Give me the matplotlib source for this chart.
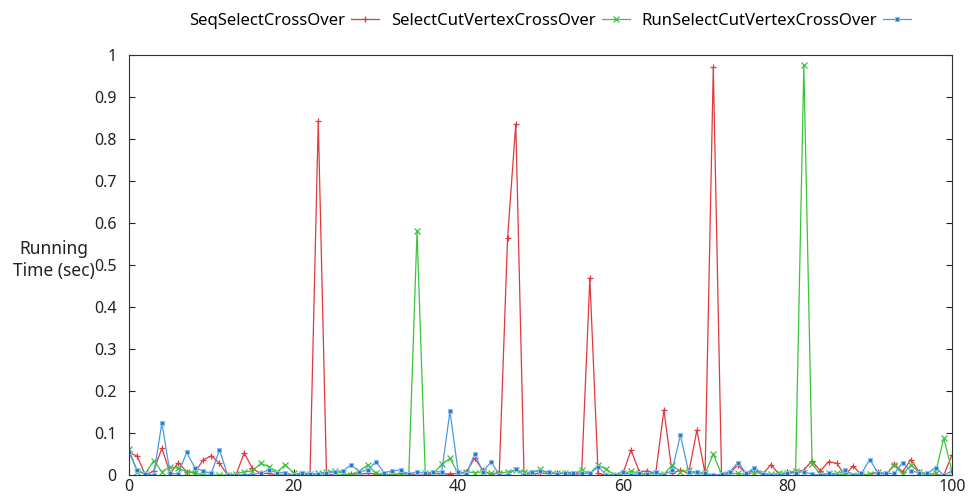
import matplotlib.pyplot as plt

plt.rcParams['font.family'] = ['Noto Sans', 'DejaVu Sans']

x = list(range(101))

# SeqSelectCrossOver
seq = [0.054, 0.045, 0.0, 0.01, 0.064, 0.004, 0.03, 0.008, 0.006, 0.036,
       0.046, 0.028, 0.0, 0.0, 0.053, 0.016, 0.004, 0.004, 0.001, 0.0,
       0.0, 0.002, 0.002, 0.843, 0.002, 0.0, 0.0, 0.003, 0.003, 0.004,
       0.003, 0.002, 0.0, 0.004, 0.003, 0.0, 0.0, 0.004, 0.003, 0.003,
       0.004, 0.008, 0.04, 0.012, 0.0, 0.008, 0.564, 0.836, 0.003, 0.003,
       0.004, 0.004, 0.004, 0.004, 0.002, 0.004, 0.469, 0.004, 0.0, 0.0,
       0.002, 0.06, 0.008, 0.01, 0.004, 0.155, 0.004, 0.012, 0.004, 0.107,
       0.004, 0.971, 0.0, 0.004, 0.025, 0.002, 0.013, 0.002, 0.025, 0.002,
       0.004, 0.008, 0.012, 0.034, 0.01, 0.032, 0.028, 0.0, 0.022, 0.0,
       0.0, 0.008, 0.0, 0.026, 0.008, 0.037, 0.008, 0.0, 0.0, 0.0,
       0.048]

# SelectCutVertexCrossOver
cut = [0.062, 0.008, 0.004, 0.034, 0.008, 0.02, 0.016, 0.008, 0.006, 0.0,
       0.0, 0.0, 0.001, 0.003, 0.008, 0.01, 0.028, 0.02, 0.008, 0.025,
       0.004, 0.002, 0.002, 0.004, 0.008, 0.01, 0.004, 0.0, 0.01, 0.024,
       0.004, 0.0, 0.0, 0.0, 0.0, 0.581, 0.004, 0.004, 0.026, 0.04,
       0.004, 0.008, 0.006, 0.008, 0.004, 0.004, 0.008, 0.012, 0.008, 0.006,
       0.014, 0.003, 0.006, 0.004, 0.002, 0.012, 0.004, 0.024, 0.014, 0.0,
       0.002, 0.01, 0.004, 0.002, 0.004, 0.002, 0.024, 0.008, 0.012, 0.002,
       0.004, 0.05, 0.002, 0.004, 0.004, 0.002, 0.006, 0.004, 0.002, 0.004,
       0.006, 0.01, 0.976, 0.027, 0.002, 0.004, 0.004, 0.0, 0.0, 0.002,
       0.002, 0.008, 0.002, 0.024, 0.002, 0.024, 0.008, 0.0, 0.006, 0.088,
       0.01]

# RunSelectCutVertexCrossOver
run = [0.054, 0.012, 0.002, 0.0, 0.124, 0.004, 0.003, 0.054, 0.018, 0.01,
       0.004, 0.06, 0.0, 0.0, 0.001, 0.001, 0.006, 0.012, 0.006, 0.006,
       0.0, 0.006, 0.003, 0.002, 0.004, 0.008, 0.01, 0.025, 0.008, 0.012,
       0.032, 0.006, 0.01, 0.012, 0.002, 0.008, 0.004, 0.008, 0.008, 0.152,
       0.008, 0.003, 0.05, 0.008, 0.032, 0.0, 0.0, 0.015, 0.0, 0.008,
       0.01, 0.008, 0.002, 0.006, 0.006, 0.004, 0.004, 0.02, 0.0, 0.0,
       0.008, 0.0, 0.004, 0.003, 0.008, 0.0, 0.012, 0.095, 0.008, 0.008,
       0.004, 0.0, 0.002, 0.008, 0.03, 0.004, 0.018, 0.002, 0.0, 0.0,
       0.004, 0.006, 0.008, 0.002, 0.0, 0.004, 0.0, 0.012, 0.0, 0.004,
       0.037, 0.006, 0.004, 0.004, 0.03, 0.01, 0.006, 0.004, 0.018, 0.0,
       0.01]

fig = plt.figure(figsize=(9.74, 4.97), dpi=100)
ax = fig.add_axes([0.1324, 0.044, 0.845, 0.845])

ax.plot(x, seq, color='#e0393e', lw=0.9, marker='+', ms=5, mew=0.9,
        label='SeqSelectCrossOver')
ax.plot(x, cut, color='#3cc43c', lw=0.9, marker='x', ms=4, mew=0.9,
        label='SelectCutVertexCrossOver')
ax.plot(x, run, color='#4a9ae0', lw=0.9, marker='s', ms=3, mew=0.8,
        mfc='#1f78d1', mec='#8cc0ee', label='RunSelectCutVertexCrossOver')

ax.set_xlim(0, 100)
ax.set_ylim(0, 1)
ax.set_xticks([0, 20, 40, 60, 80, 100])
ax.set_yticks([0, 0.1, 0.2, 0.3, 0.4, 0.5, 0.6, 0.7, 0.8, 0.9, 1])
ax.set_yticklabels(['0', '0.1', '0.2', '0.3', '0.4', '0.5', '0.6', '0.7',
                    '0.8', '0.9', '1'])
ax.tick_params(direction='in', length=4, labelsize=11.5, right=True,
               colors='#222222')
ax.tick_params(axis='y', pad=9)
ax.tick_params(axis='x', pad=3)
for s in ax.spines.values():
    s.set_linewidth(0.8)
    s.set_color('#333333')

fig.text(0.055, 0.477, 'Running\nTime (sec)', ha='center', va='center',
         fontsize=12.5, color='#222222', linespacing=1.25)

fig.legend(loc='upper center', bbox_to_anchor=(0.565, 1.005), ncol=3,
           frameon=False, markerfirst=False, fontsize=12, handlelength=1.7,
           columnspacing=0.7, handletextpad=0.35)

fig.savefig('out.png', dpi=100)
